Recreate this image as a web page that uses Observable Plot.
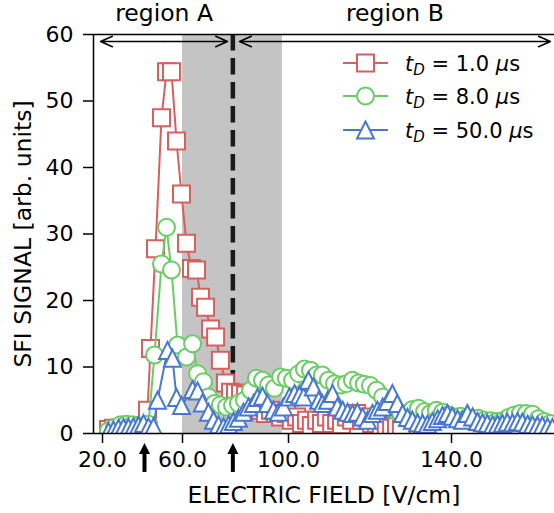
<!DOCTYPE html>
<html><head><meta charset="utf-8">
<script src="https://cdn.jsdelivr.net/npm/d3@7"></script>
<script src="https://cdn.jsdelivr.net/npm/@observablehq/plot@0.6"></script>
<style>
html,body{margin:0;padding:0;background:#fff;}
#chart svg{display:block;}
</style></head><body><div id="chart"></div>
<script>
// ---- data (electric field in V/cm, SFI signal in arb. units) ----
const redField = [23.0,25.5,28.5,31.5,34.5,37.5,40.0,42.5,44.0,46.5,49.5,52.0,54.5,57.0,59.5,61.5,63.4,65.3,66.8,68.7,70.6,72.5,74.3,76.2,78.1,80.0,81.9,83.8,85.7,87.5,89.4,91.3,93.2,95.1,97.0,99.2,100.7,102.0,103.2,104.4,105.6,106.9,108.1,109.3,110.6,111.8,113.0,114.2,115.5,116.7,117.9,119.1,120.4,121.6,122.8,124.0,125.3,126.5,127.7];
const redSignal = [0.6,0.8,0.8,0.6,0.7,0.8,1.2,3.5,12.8,27.8,47.5,54.4,54.4,44.0,36.0,28.6,24.8,24.6,20.5,19.0,15.7,14.5,11.0,7.6,6.2,6.1,6.0,5.8,5.0,4.2,3.5,3.0,3.5,3.0,2.5,3.0,2.0,2.5,1.5,2.0,1.2,2.0,1.5,2.5,1.5,2.0,1.3,2.5,2.0,3.0,2.0,2.5,1.5,1.5,1.0,1.2,0.8,1.0,0.6];

const greenField = [23.0,26.0,29.0,32.0,35.0,38.0,41.0,43.0,46.0,49.5,52.0,54.5,57.5,61.5,63.8,65.7,67.9,69.8,72.1,74.3,76.6,78.9,81.1,83.4,85.7,87.9,90.2,92.5,94.7,97.0,99.2,101.0,102.5,103.9,105.4,106.9,108.3,109.8,111.3,112.8,114.2,115.7,117.2,118.6,120.1,121.6,123.1,124.5,126.0,127.5,129.0,130.4,131.9,133.4,134.8,136.3,137.8,139.3,140.7,142.2,143.7,145.2,146.6,148.1,149.6,151.0,152.5,154.0,155.5,156.9,158.4,159.9,161.3,162.8,164.3];
const greenSignal = [0.4,0.9,1.3,1.4,1.3,1.1,1.2,1.4,11.8,25.5,31.0,24.6,13.3,11.5,13.5,9.0,7.8,5.5,4.5,4.3,4.0,4.2,4.5,5.0,6.5,8.3,8.0,7.3,6.8,8.5,8.3,8.0,9.0,9.7,9.5,8.8,8.8,8.0,7.5,7.3,7.5,8.0,7.6,7.4,7.2,6.5,5.5,4.0,3.5,3.0,3.0,3.6,3.8,3.3,3.0,3.5,3.2,2.8,2.5,2.6,2.3,2.2,2.3,2.0,1.9,1.8,1.9,2.4,2.8,3.0,3.0,2.9,2.2,1.8,1.5];

const blueField = [23.0,25.5,28.0,30.5,33.0,35.5,38.0,40.5,43.0,45.5,47.5,52.5,55.0,57.0,59.5,63.8,65.7,67.5,69.8,71.7,73.6,75.5,77.4,79.2,81.1,83.0,84.9,86.8,88.3,90.2,92.1,94.3,96.2,98.1,100.2,101.5,102.7,103.7,104.9,106.1,107.4,108.3,109.6,110.8,112.0,113.3,114.5,115.7,116.9,118.2,119.4,120.6,121.8,123.1,124.3,125.5,126.7,128.0,129.2,130.4,131.7,132.9,134.1,135.3,136.6,137.8,139.0,140.2,141.5,142.7,143.9,145.2,146.4,147.6,148.8,150.1,151.3,152.5,153.7,155.0,156.2,157.4,158.7,159.9,161.1,162.3,163.6,164.8];
const blueSignal = [0.3,0.5,0.8,0.9,0.9,1.0,1.2,1.5,1.0,1.0,5.0,12.5,11.3,5.4,4.2,6.6,6.4,4.6,3.2,2.0,1.3,1.0,1.3,1.8,2.3,3.2,4.0,4.5,5.4,5.6,4.5,3.5,3.2,4.0,5.5,6.0,5.8,5.5,8.0,7.0,5.0,4.5,5.0,6.0,4.0,3.5,3.2,3.0,3.2,2.5,2.0,3.0,3.5,4.0,4.8,6.0,4.5,3.0,2.4,2.0,1.6,1.5,1.4,1.8,2.2,2.7,3.0,2.6,2.2,2.0,3.0,2.5,1.8,1.6,1.5,1.3,1.4,1.5,1.7,1.6,1.8,1.7,1.4,1.3,1.2,1.2,1.0,0.9];

const seriesNames = ["1.0", "8.0", "50.0"];          // t_D in microseconds
const xTicks = [20, 60, 100, 140];
const yTicks = [0, 10, 20, 30, 40, 50, 60];
const xDomain = [15.5, 20, 60, 100, 140, 165.3];      // piecewise field axis
const shadedField = [60, 97.7];
const dividerField = [79];
const bottomArrowField = [41, 79];
const regionLabels = ["region A", "region B"];
const regionLabelField = [50.8, 126.1];
const regionArrowEnds = [[19.0, 77.0], [81.5, 164.3]];

// ---- styling / layout ----
const W = 554, H = 513;
const mL = 93, mR = 0, mT = 34, mB = 80;
const xRange = [93, 102, 182, 288, 451, 554];
const colors = ["#d65f5f", "#6acc64", "#4878d0"];
const font = "DejaVu Sans";

const squareSym = {draw(c, size){const r = Math.sqrt(size/Math.PI); c.moveTo(-r,-r); c.lineTo(r,-r); c.lineTo(r,r); c.lineTo(-r,r); c.closePath();}};
const circleSym = {draw(c, size){const r = Math.sqrt(size/Math.PI); c.moveTo(r,0); c.arc(0,0,r,0,2*Math.PI); c.closePath();}};
const triSym = {draw(c, size){const r = Math.sqrt(size/Math.PI); c.moveTo(0,-r); c.lineTo(r,r); c.lineTo(-r,r); c.closePath();}};
const headSym = {draw(c, size){const r = Math.sqrt(size/Math.PI); c.moveTo(0,0); c.lineTo(r,2*r); c.lineTo(-r,2*r); c.closePath();}};
const symbols = [squareSym, circleSym, triSym];

const fields = [redField, greenField, blueField];
const signals = [redSignal, greenSignal, blueSignal];
const seriesRows = fields.map((f, s) => f.map((v, i) => ({field: v, signal: signals[s][i]})));

const shaded = [{x1: shadedField[0], x2: shadedField[1], y1: 0, y2: 60}];
const arrowY = 58.95;
const topArrows = [];
regionArrowEnds.forEach((ends, i) => {
  topArrows.push({x1: regionLabelField[i], x2: ends[0]});
  topArrows.push({x1: regionLabelField[i], x2: ends[1]});
});
const regions = regionLabels.map((l, i) => ({label: l, x: regionLabelField[i]}));
const bottomArrows = bottomArrowField.map(x => ({x}));

const marks = [
  Plot.rect(shaded, {x1: "x1", x2: "x2", y1: "y1", y2: "y2", fill: "#c4c4c4"}),
  Plot.ruleX(dividerField, {stroke: "#1a1a1a", strokeWidth: 4.5, strokeDasharray: "16.5,7.5"})
];
seriesRows.forEach((rows, s) => {
  marks.push(Plot.line(rows, {x: "field", y: "signal", stroke: colors[s], strokeWidth: 2, clip: true}));
  marks.push(Plot.dot(rows, {x: "field", y: "signal", symbol: symbols[s], r: 8.5, stroke: colors[s], fill: "white", strokeWidth: 2, clip: true}));
});
marks.push(
  Plot.ruleY([0, 60], {stroke: "black", strokeWidth: 1.5}),
  Plot.ruleX([xDomain[0]], {stroke: "black", strokeWidth: 1.5}),
  Plot.arrow(topArrows, {x1: "x1", x2: "x2", y1: arrowY, y2: arrowY, stroke: "black", strokeWidth: 1.5, headLength: 13, headAngle: 48}),
  Plot.link(bottomArrows, {x1: "x", x2: "x", y1: -5.78, y2: -2.9, stroke: "black", strokeWidth: 4}),
  Plot.dot(bottomArrows, {x: "x", y: -1.43, symbol: headSym, r: 5.5, fill: "black", stroke: "none"}),
  Plot.text(regions, {x: "x", text: "label", frameAnchor: "top", dy: -14, textAnchor: "middle", lineAnchor: "bottom", fontSize: 23.5}),
  Plot.text(["SFI SIGNAL [arb. units]"], {text: d => d, frameAnchor: "left", dx: -70, rotate: -90, textAnchor: "middle", lineAnchor: "middle", fontSize: 23.5}),
  Plot.text(["ELECTRIC FIELD [V/cm]"], {text: d => d, frameAnchor: "bottom", dy: 62, textAnchor: "middle", lineAnchor: "middle", fontSize: 23.5})
);

const plot = Plot.plot({
  width: W, height: H,
  marginLeft: mL, marginRight: mR, marginTop: mT, marginBottom: mB,
  style: {fontFamily: font, fontSize: "22px", color: "black", background: "white", overflow: "visible"},
  x: {type: "linear", domain: xDomain, range: xRange, ticks: xTicks, tickFormat: d3.format(".1f"), tickSize: 10, tickPadding: 8, label: null},
  y: {domain: [0, 60], ticks: yTicks, tickSize: 10, tickPadding: 10, label: null},
  marks
});
document.getElementById("chart").appendChild(plot);

// thicker tick lines
d3.select(plot).selectAll('[aria-label^="x-axis"] line, [aria-label^="x-axis"] path, [aria-label^="y-axis"] line, [aria-label^="y-axis"] path').attr("stroke-width", 1.5);

// ---- legend ----
const legendY = [63, 96, 130];
const lg = d3.select(plot).append("g").attr("font-family", font).attr("font-size", 21).attr("text-anchor", "start");
seriesNames.forEach((name, s) => {
  const y = legendY[s];
  lg.append("line").attr("x1", 343).attr("x2", 388).attr("y1", y).attr("y2", y).attr("stroke", colors[s]).attr("stroke-width", 2);
  lg.append("path").attr("transform", `translate(365.5,${y})`).attr("d", d3.symbol(symbols[s], Math.PI * 8.5 * 8.5)()).attr("fill", "white").attr("stroke", colors[s]).attr("stroke-width", 2);
  const t = lg.append("text").attr("x", 405).attr("y", y + 7.5).attr("text-anchor", "start").style("white-space", "pre");
  t.append("tspan").attr("font-style", "italic").text("t");
  t.append("tspan").attr("font-style", "italic").attr("font-size", 15).attr("dy", 4).text("D");
  t.append("tspan").attr("dy", -4).text(" = " + name + " ");
  t.append("tspan").attr("font-style", "italic").text("\u03bc");
  t.append("tspan").text("s");
});
</script></body></html>
